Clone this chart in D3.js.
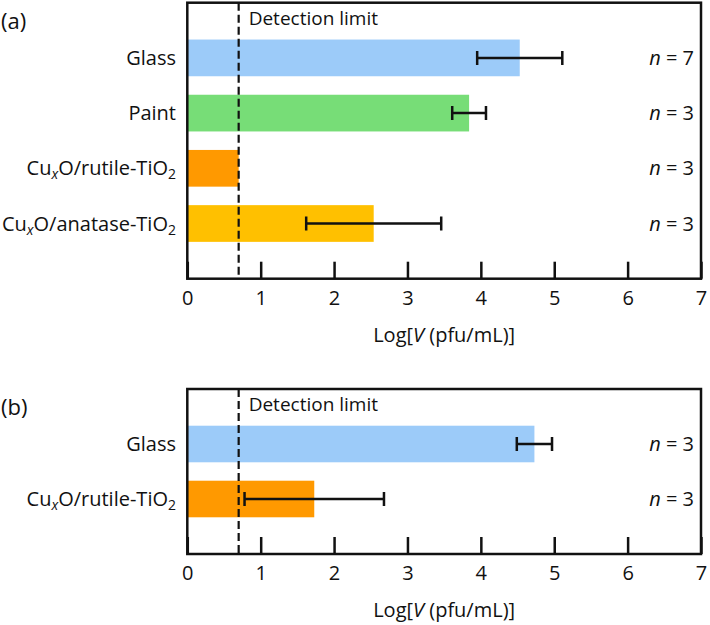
<!DOCTYPE html>
<meta charset="utf-8">
<script src="https://d3js.org/d3.v7.min.js"></script>
<style type="text/css">
body { margin: 0; background: #fff; }
text { font-family: "Open Sans", sans-serif; font-size: 20px; fill: #111; }
.moldura { fill: none; stroke: #111; stroke-width: 2.5; }
.limite { stroke: #111; stroke-width: 2.2; stroke-dasharray: 8,4; }
.erro { stroke: #111; stroke-width: 2.5; fill: none; }
</style>
<body>
<div id="canvas"></div>
<script>

// painel (a)
var catsA = ["Glass", "Paint", "Cu_xO/rutile-TiO_2", "Cu_xO/anatase-TiO_2"];
var valsA = [4.53, 3.84, 0.70, 2.54];
var errA = [0.58, 0.23, 0, 0.92];
var nA = [7, 3, 3, 3];
var coresA = ["#9ccbf9", "#77dd77", "#ff9900", "#ffc000"];

// painel (b)
var catsB = ["Glass", "Cu_xO/rutile-TiO_2"];
var valsB = [4.73, 1.73];
var errB = [0.24, 0.95];
var nB = [3, 3];
var coresB = ["#9ccbf9", "#ff9900"];

var xTicks = [0, 1, 2, 3, 4, 5, 6, 7];
var limiteDeteccao = 0.7;

var width = 710;
var height = 625;

var svg = d3.select('#canvas')
    .append("svg")
    .attr("width", width)
    .attr("height", height);

var x = d3.scaleLinear()
    .domain([0, 7])
    .range([187.3, 701]);

// escreve o rotulo com subscritos ( _x = italico, _2 = numero )
function rotulo(sel, s) {
    var partes = s.split(/(_.)/);
    partes.forEach(function(p) {
        if (p === "") return;
        if (p[0] === "_") {
            sel.append("tspan")
                .attr("baseline-shift", "-25%")
                .style("font-size", "14px")
                .style("font-style", p[1] === "x" ? "italic" : "normal")
                .text(p[1]);
        } else {
            sel.append("tspan").text(p);
        }
    });
}

function painel(letra, top, bottom, cats, vals, errs, ns, cores) {
    var g = svg.append("g");

    var y = d3.scalePoint()
        .domain(cats)
        .range([top, bottom])
        .padding(1);
    var alturaBarra = y.step() * 0.665;

    // barras
    g.selectAll(".barra")
        .data(cats)
        .enter()
        .append("rect")
        .attr("x", x(0))
        .attr("y", function(d) { return y(d) - alturaBarra / 2; })
        .attr("width", function(d, i) { return x(vals[i]) - x(0); })
        .attr("height", alturaBarra)
        .style("fill", function(d, i) { return cores[i]; });

    // barras de erro
    cats.forEach(function(c, i) {
        if (!errs[i]) return;
        var cy = y(c);
        var x1 = x(vals[i] - errs[i]), x2 = x(vals[i] + errs[i]);
        g.append("path")
            .attr("class", "erro")
            .attr("d", "M" + x1 + "," + cy + "H" + x2 +
                "M" + x1 + "," + (cy - 7) + "V" + (cy + 7) +
                "M" + x2 + "," + (cy - 7) + "V" + (cy + 7));
    });

    // linha do limite de deteccao
    g.append("line")
        .attr("class", "limite")
        .attr("x1", x(limiteDeteccao))
        .attr("x2", x(limiteDeteccao))
        .attr("y1", top)
        .attr("y2", bottom);

    g.append("text")
        .attr("x", x(limiteDeteccao) + 10)
        .attr("y", top + 22)
        .style("font-size", "19px")
        .text("Detection limit");

    // eixo X
    var xAxis = d3.axisBottom(x)
        .tickValues(xTicks)
        .tickFormat(d3.format("d"))
        .tickSizeInner(-17)
        .tickSizeOuter(0)
        .tickPadding(12);

    var eixo = g.append("g")
        .attr("transform", "translate(0," + bottom + ")")
        .call(xAxis);
    eixo.select(".domain").remove();
    eixo.selectAll(".tick line")
        .attr("stroke", "#111")
        .attr("stroke-width", 2.5);
    eixo.selectAll(".tick text")
        .attr("fill", "#111")
        .style("font-size", "20px")
        .style("font-family", "'Open Sans', sans-serif");

    var titulo = g.append("text")
        .attr("x", (x.range()[0] + x.range()[1]) / 2)
        .attr("y", bottom + 63)
        .attr("text-anchor", "middle");
    titulo.append("tspan").text("Log[");
    titulo.append("tspan").style("font-style", "italic").text("V");
    titulo.append("tspan").text(" (pfu/mL)]");

    // rotulos das categorias
    cats.forEach(function(c) {
        var t = g.append("text")
            .attr("x", 176)
            .attr("y", y(c))
            .attr("dy", "0.35em")
            .attr("text-anchor", "end");
        rotulo(t, c);
    });

    // n = ...
    ns.forEach(function(n, i) {
        var t = g.append("text")
            .attr("x", 694)
            .attr("y", y(cats[i]))
            .attr("dy", "0.35em")
            .attr("text-anchor", "end");
        t.append("tspan").style("font-style", "italic").text("n");
        t.append("tspan").text(" = " + n);
    });

    // moldura
    g.append("rect")
        .attr("class", "moldura")
        .attr("x", x(0))
        .attr("y", top)
        .attr("width", x(7) - x(0))
        .attr("height", bottom - top);

    g.append("text")
        .attr("x", 1)
        .attr("y", top + 26)
        .style("font-size", "22px")
        .text(letra);
}

painel("(a)", 2.7, 278.7, catsA, valsA, errA, nA, coresA);
painel("(b)", 389, 554, catsB, valsB, errB, nB, coresB);

</script>
</body>
